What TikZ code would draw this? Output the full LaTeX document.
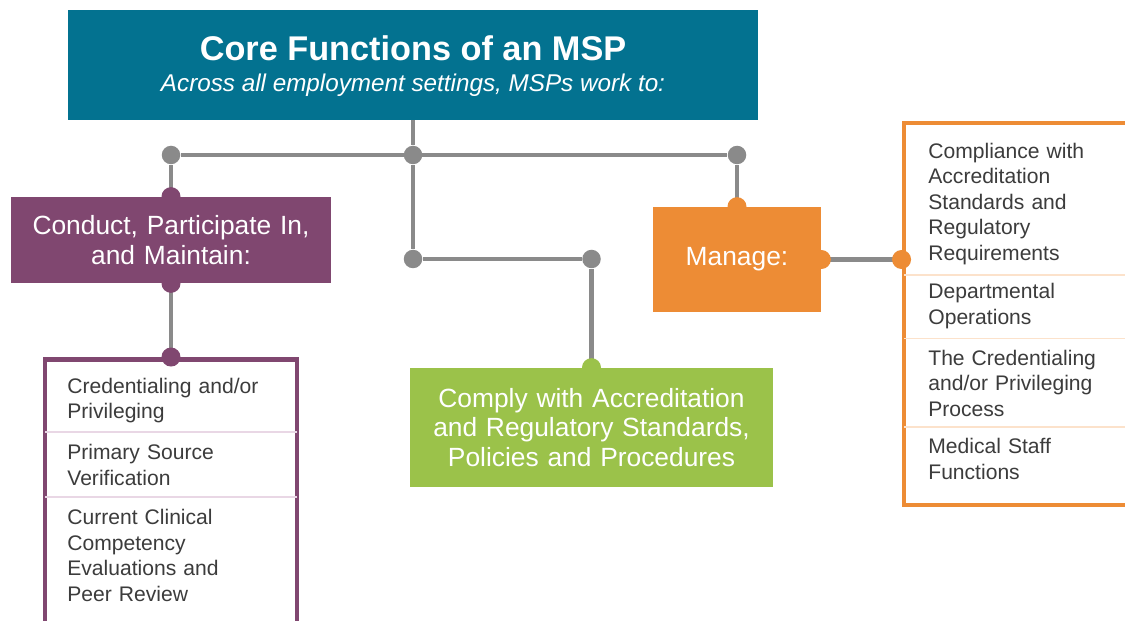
\documentclass[tikz,border=0pt]{standalone}
\usepackage{fontspec}
\setmainfont{Liberation Sans}
\usetikzlibrary{positioning,calc}
\definecolor{mspTeal}{RGB}{3,114,144}
\definecolor{mspPurple}{RGB}{128,71,112}
\definecolor{mspGreen}{RGB}{155,194,74}
\definecolor{mspOrange}{RGB}{237,140,53}
\definecolor{mspGray}{RGB}{138,138,138}
\definecolor{mspText}{RGB}{60,60,60}
\definecolor{mspLilac}{RGB}{233,215,229}
\definecolor{mspPeach}{RGB}{252,226,203}
\tikzset{
  link/.style={mspGray, line width=2.8pt},
  jdot/.style={circle, fill=mspGray, inner sep=0pt, minimum size=0.37cm},
  catbox/.style={fill=#1, text=white, inner sep=0pt, align=center, font=\fontsize{15}{17}\selectfont},
  listbox/.style={draw=#1, line width=2.8pt, fill=white, inner sep=0pt},
  entry/.style={anchor=west, inner sep=0pt, align=left, text width=4.6cm, text=mspText, font=\fontsize{12}{14.5}\selectfont},
  divider/.style={line width=0.8pt, shorten <=1.4pt, shorten >=1.4pt}
}

\begin{document}
\begin{tikzpicture}
  \useasboundingbox (0,0) rectangle (22.5,-12.42);
  \clip (0,0) rectangle (22.5,-12.42);

  % Header
  \node[fill=mspTeal, minimum width=13.8cm, minimum height=2.2cm, inner sep=0pt] (core) at (8.26,-1.30) {};
  \node[anchor=base, inner sep=0pt, text=white, font=\fontsize{19.5}{22}\selectfont\bfseries] (coreTitle) at (8.26,-1.22) {Core Functions of an MSP};
  \node[anchor=base, inner sep=0pt, text=white, font=\fontsize{13.8}{16}\selectfont\itshape] (coreSub) at (8.26,-1.84) {Across all employment settings, MSPs work to:};

  % Category boxes
  \node[catbox=mspPurple, text width=6.38cm, minimum height=1.72cm] (conduct) at (3.42,-4.80) {Conduct, Participate In,\\and Maintain:};
  \node[catbox=mspGreen, text width=7.26cm, minimum height=2.38cm] (comply) at (11.83,-8.55) {Comply with Accreditation\\and Regulatory Standards,\\Policies and Procedures};
  \node[catbox=mspOrange, text width=3.36cm, minimum height=2.10cm] (manage) at (14.74,-5.19) {Manage:};

  % Lists
  \node[listbox=mspPurple, minimum width=5.04cm, minimum height=6cm] (cmList) at (3.42,-10.19) {};
  \draw[divider, mspLilac] (cmList.west |- 0,-8.64) -- (cmList.east |- 0,-8.64);
  \draw[divider, mspLilac] (cmList.west |- 0,-9.94) -- (cmList.east |- 0,-9.94);
  \node[entry] (cm1) at (1.34,-8.01) {Credentialing and/or\\Privileging};
  \node[entry] (cm2) at (1.34,-9.30) {Primary Source\\Verification};
  \node[entry] (cm3) at (1.34,-11.11) {Current Clinical\\Competency\\Evaluations and\\Peer Review};

  \node[listbox=mspOrange, minimum width=5.12cm, minimum height=7.64cm] (mgList) at (20.64,-6.28) {};
  \draw[divider, mspPeach] (mgList.west |- 0,-5.50) -- (mgList.east |- 0,-5.50);
  \draw[divider, mspPeach] (mgList.west |- 0,-6.77) -- (mgList.east |- 0,-6.77);
  \draw[divider, mspPeach] (mgList.west |- 0,-8.54) -- (mgList.east |- 0,-8.54);
  \node[entry] (mg1) at (18.56,-4.08) {Compliance with\\Accreditation\\Standards and\\Regulatory\\Requirements};
  \node[entry] (mg2) at (18.56,-6.12) {Departmental\\Operations};
  \node[entry] (mg3) at (18.56,-7.66) {The Credentialing\\and/or Privileging\\Process};
  \node[entry] (mg4) at (18.56,-9.18) {Medical Staff\\Functions};

  % Junctions
  \node[jdot] (dotL) at (3.42,-3.10) {};
  \node[jdot] (hub) at (8.26,-3.10) {};
  \node[jdot] (dotR) at (14.74,-3.10) {};
  \node[jdot] (dotM) at (8.26,-5.18) {};
  \node[jdot] (dotC) at (11.83,-5.18) {};
  \coordinate (mgIn) at (manage.east -| mgList.west);

  % Connectors
  \draw[link] (core.south) -- (hub);
  \draw[link] (dotL) -- (dotR);
  \draw[link] (hub) -- (dotM);
  \draw[link] (dotM) -- (dotC);
  \draw[link] (dotL) -- (conduct.north);
  \draw[link] (dotC) -- (comply.north);
  \draw[link] (dotR) -- (manage.north);
  \draw[link] (conduct.south) -- (cmList.north);
  \draw[link] (manage.east) -- (mgIn);

  % Edge dots
  \fill[mspPurple] (conduct.north) circle (0.19);
  \fill[mspPurple] (conduct.south) circle (0.19);
  \fill[mspPurple] (cmList.north) circle (0.19);
  \fill[mspGreen] (comply.north) circle (0.19);
  \fill[mspOrange] (manage.north) circle (0.19);
  \fill[mspOrange] (manage.east) circle (0.19);
  \fill[mspOrange] (mgIn) circle (0.19);
\end{tikzpicture}
\end{document}
